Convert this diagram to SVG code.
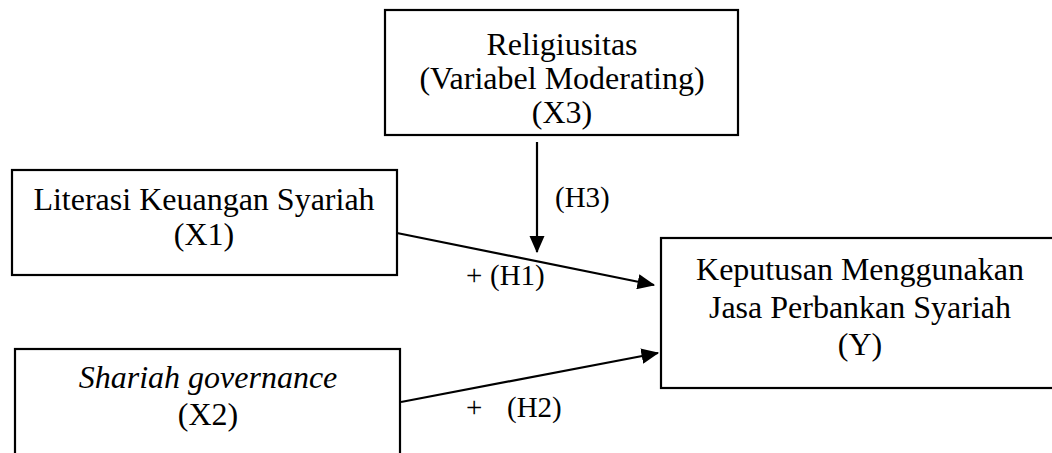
<svg xmlns="http://www.w3.org/2000/svg" width="1052" height="453" viewBox="0 0 1052 453">
<style>
.box{fill:#fff;stroke:#000;stroke-width:2.2}
.t{font-family:"Liberation Serif","Times New Roman",serif;font-size:32px;fill:#000;text-anchor:middle}
.lbl{font-family:"Liberation Serif","Times New Roman",serif;font-size:29px;fill:#000}
.conn{stroke:#000;stroke-width:2.2;fill:none}
</style>
<defs>
<marker id="ah" markerWidth="8" markerHeight="7" refX="7.5" refY="3.5" orient="auto" markerUnits="strokeWidth">
<path d="M0,0 L8,3.5 L0,7 z" fill="#000"/>
</marker>
</defs>
<rect width="1052" height="453" fill="#fff"/>
<g id="node-x3">
<rect class="box" x="385" y="10" width="353" height="125"/>
<text class="t" x="562" y="55">Religiusitas</text>
<text class="t" x="562" y="89">(Variabel Moderating)</text>
<text class="t" x="562" y="123">(X3)</text>
</g>
<g id="node-x1">
<rect class="box" x="12" y="170" width="385" height="105"/>
<text class="t" x="204" y="210">Literasi Keuangan Syariah</text>
<text class="t" x="204" y="245">(X1)</text>
</g>
<g id="node-x2">
<rect class="box" x="15" y="349" width="385" height="120"/>
<text class="t" x="208" y="388" font-style="italic">Shariah governance</text>
<text class="t" x="208" y="425">(X2)</text>
</g>
<g id="node-y">
<rect class="box" x="661" y="238" width="400" height="150"/>
<text class="t" x="860" y="280">Keputusan Menggunakan</text>
<text class="t" x="860" y="318">Jasa Perbankan Syariah</text>
<text class="t" x="860" y="355">(Y)</text>
</g>
<g id="connectors">
<line class="conn" x1="537" y1="142" x2="537" y2="252" marker-end="url(#ah)"/>
<line class="conn" x1="397" y1="233" x2="654" y2="285" marker-end="url(#ah)"/>
<line class="conn" x1="401" y1="402" x2="658" y2="353" marker-end="url(#ah)"/>
</g>
<g id="labels">
<text class="lbl" x="555" y="207">(H3)</text>
<text class="lbl" x="466" y="285">+</text>
<text class="lbl" x="490" y="285">(H1)</text>
<text class="lbl" x="466" y="417">+</text>
<text class="lbl" x="507" y="417">(H2)</text>
</g>
</svg>
